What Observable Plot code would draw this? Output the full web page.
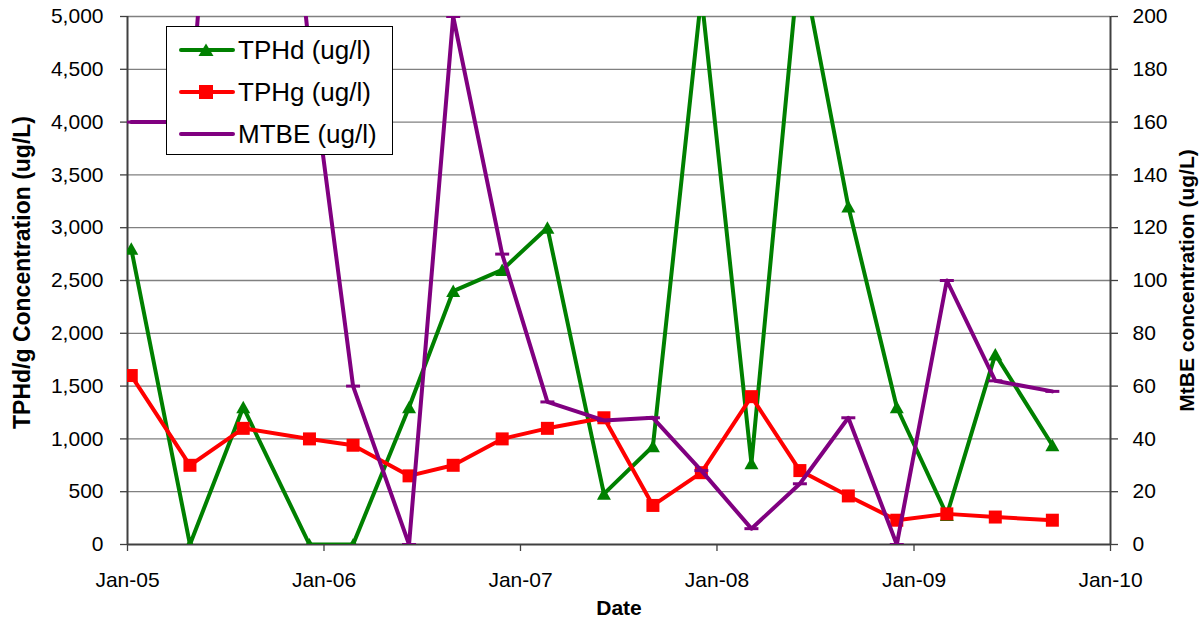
<!DOCTYPE html>
<html><head><meta charset="utf-8">
<script src="https://cdn.jsdelivr.net/npm/d3@7"></script>
<script src="https://cdn.jsdelivr.net/npm/@observablehq/plot@0.6"></script>
<style>
body{margin:0;background:#fff;font-family:"Liberation Sans",Arial,sans-serif;}
#wrap{position:relative;width:1204px;height:629px;overflow:hidden;}
#legend{position:absolute;left:166px;top:26px;width:227px;height:129px;border:1px solid #000;background:#fff;box-sizing:border-box;}
.item{position:absolute;left:0;height:32px;}
.item svg{position:absolute;left:12px;top:6px;}
.item span{position:absolute;left:71px;top:0;line-height:32px;font-size:26px;color:#000;white-space:nowrap;}
</style></head><body><div id="wrap"></div>
<script>
// ---- data ----
const dates = ["2005-01-08","2005-04-27","2005-08-04","2005-12-05","2006-02-24","2006-06-08","2006-08-29","2006-11-28","2007-02-20","2007-06-05","2007-09-04","2007-12-03","2008-03-05","2008-06-03","2008-09-01","2008-11-30","2009-03-03","2009-06-01","2009-09-15"];
const tphd = [2800,0,1300,0,0,1300,2400,2600,3000,480,930,5200,770,5600,3200,1300,280,1800,940];
const tphg = [1600,750,1100,1000,940,650,750,1000,1100,1200,370,680,1400,700,460,230,290,260,230];
const mtbe = [160,160,430,187,60,0,200,110,54,47,48,28,6,23,48,0,100,62,58];
const seriesNames = ["TPHd (ug/l)","TPHg (ug/l)","MTBE (ug/l)"];
const leftTicks = [0,500,1000,1500,2000,2500,3000,3500,4000,4500,5000];
const rightTicks = [0,20,40,60,80,100,120,140,160,180,200];
const xTicks = ["2005-01-01","2006-01-01","2007-01-01","2008-01-01","2009-01-01","2010-01-01"];
const leftTitle = "TPHd/g Concentration (ug/L)";
const rightTitle = "MtBE concentration (ug/L)";
const xTitle = "Date";

const K = 5000 / 200; // secondary axis ratio
const rows = dates.map((d, i) => ({date: new Date(d), tphd: tphd[i], tphg: tphg[i], mtbe: mtbe[i] * K}));
const xt = xTicks.map(d => new Date(d));

const tri = {draw(c){ c.moveTo(0,-6.5); c.lineTo(7,6); c.lineTo(-7,6); c.closePath(); }};
const sq = {draw(c){ c.rect(-6.5,-6.5,13,13); }};
const dash = {draw(c){ c.moveTo(-7,0); c.lineTo(7,0); }};

const GREEN = "#008000", RED = "#ff0000", PURPLE = "#800080";
const font = '"Liberation Sans", Arial, sans-serif';
const FS = 21;

const chart = Plot.plot({
  width: 1204, height: 629,
  marginLeft: 127, marginRight: 94, marginTop: 16, marginBottom: 85,
  style: {fontFamily: font, fontSize: FS + "px", background: "#fff", color: "#000", overflow: "visible"},
  x: {type: "utc", domain: [xt[0], xt[xt.length - 1]]},
  y: {domain: [0, 5000]},
  marks: [
    Plot.gridY(leftTicks.filter(v => v > 0), {stroke: "#808080", strokeOpacity: 1, strokeWidth: 1.3}),
    Plot.axisY({anchor: "left", ticks: leftTicks, tickSize: 7, tickPadding: 17, tickFormat: d3.format(","), label: null, stroke: "#404040", strokeWidth: 1.3, fontSize: FS}),
    Plot.axisY({anchor: "right", ticks: rightTicks.map(v => v * K), tickSize: 7, tickPadding: 15, tickFormat: d => d3.format(",")(Math.round(d / K)), label: null, stroke: "#404040", strokeWidth: 1.3, fontSize: FS}),
    Plot.axisX({anchor: "bottom", ticks: xt, tickSize: 7, tickPadding: 21, tickFormat: d3.utcFormat("%b-%y"), label: null, stroke: "#404040", strokeWidth: 1.3, fontSize: FS}),
    Plot.ruleX([xt[0], xt[xt.length - 1]], {stroke: "#404040", strokeWidth: 2}),
    Plot.ruleY([0], {stroke: "#404040", strokeWidth: 2}),
    Plot.text([leftTitle], {text: d => d, frameAnchor: "left", textAnchor: "middle", dx: -105, dy: -8, rotate: -90, fontWeight: "bold", fontSize: 23}),
    Plot.text([rightTitle], {text: d => d, frameAnchor: "right", textAnchor: "middle", dx: 77, rotate: -90, fontWeight: "bold", fontSize: FS}),
    Plot.text([xTitle], {text: d => d, frameAnchor: "bottom", dy: 70, fontWeight: "bold", fontSize: FS}),
    // TPHd
    Plot.lineY(rows, {x: "date", y: "tphd", stroke: GREEN, strokeWidth: 4, clip: true}),
    Plot.dot(rows, {x: "date", y: "tphd", symbol: tri, fill: GREEN, stroke: "none", clip: true}),
    // TPHg
    Plot.lineY(rows, {x: "date", y: "tphg", stroke: RED, strokeWidth: 4, clip: true}),
    Plot.dot(rows, {x: "date", y: "tphg", symbol: sq, fill: RED, stroke: "none", clip: true}),
    // MTBE (secondary axis)
    Plot.lineY(rows, {x: "date", y: "mtbe", stroke: PURPLE, strokeWidth: 4, clip: true}),
    Plot.dot(rows, {x: "date", y: "mtbe", symbol: dash, fill: "none", stroke: PURPLE, strokeWidth: 3, clip: true})
  ]
});

const wrap = document.getElementById("wrap");
wrap.appendChild(chart);

// legend
const legend = document.createElement("div");
legend.id = "legend";
const specs = [
  {name: seriesNames[0], color: GREEN, marker: "tri"},
  {name: seriesNames[1], color: RED, marker: "sq"},
  {name: seriesNames[2], color: PURPLE, marker: null}
];
const tops = [7, 49, 91];
specs.forEach((s, i) => {
  const item = document.createElement("div");
  item.className = "item";
  item.style.top = tops[i] + "px";
  let m = "";
  if (s.marker === "tri") m = `<path d="M27,3.5L34.5,16L19.5,16Z" fill="${s.color}"/>`;
  if (s.marker === "sq") m = `<rect x="20" y="3" width="14" height="14" fill="${s.color}"/>`;
  item.innerHTML = `<svg width="56" height="20"><line x1="2" y1="10" x2="54" y2="10" stroke="${s.color}" stroke-width="4" stroke-linecap="round"/>${m}</svg><span>${s.name}</span>`;
  legend.appendChild(item);
});
wrap.appendChild(legend);
</script>
</body></html>
